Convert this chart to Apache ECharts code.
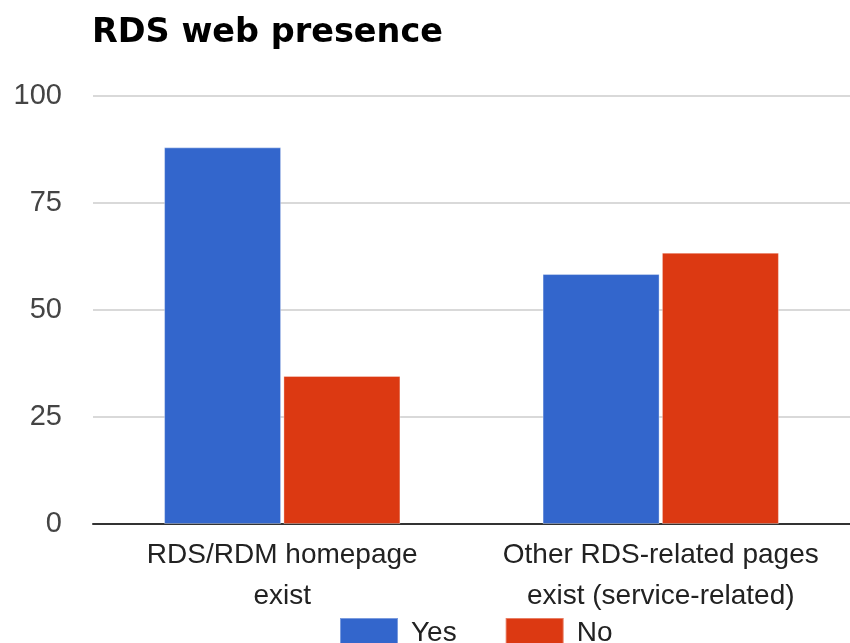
<!DOCTYPE html>
<html>
<head>
<meta charset="utf-8">
<script src="https://cdn.jsdelivr.net/npm/echarts@6/dist/echarts.min.js"></script>
<style>
html,body{margin:0;padding:0;background:#fff;}
#main{width:850px;height:643px;}
</style>
</head>
<body>
<div id="main"></div>
<script>
const titleText = 'RDS web presence';
const categories = ['RDS/RDM homepage\nexist', 'Other RDS-related pages\nexist (service-related)'];
const seriesNames = ['Yes', 'No'];
const yesValues = [88, 58.4];
const noValues = [34.6, 63.4];
const yTicks = [0, 25, 50, 75, 100];

const chart = echarts.init(document.getElementById('main'), null, {renderer: 'canvas'});
const barBorder = {borderColor: 'rgba(255,255,255,0.35)', borderWidth: 1};
chart.setOption({
  animation: false,
  backgroundColor: '#ffffff',
  title: {
    text: titleText,
    left: 87,
    top: 11,
    textStyle: {fontFamily: 'DejaVu Sans', fontWeight: 'bold', fontSize: 33.5, color: '#000'}
  },
  legend: {
    data: seriesNames,
    left: 334,
    top: 612,
    itemWidth: 58,
    itemHeight: 30,
    itemGap: 48,
    icon: 'rect',
    textStyle: {fontFamily: 'Liberation Sans', fontSize: 28, color: '#222', padding: [0, 0, 0, 8]}
  },
  grid: {left: 93, top: 96, width: 767, height: 428, containLabel: false},
  xAxis: {
    type: 'category',
    data: categories,
    axisLine: {lineStyle: {color: '#333', width: 2}},
    axisTick: {show: false},
    axisLabel: {
      fontFamily: 'Liberation Sans', fontSize: 28, color: '#222',
      lineHeight: 41, margin: 11, interval: 0
    }
  },
  yAxis: {
    type: 'value',
    min: yTicks[0],
    max: yTicks[yTicks.length - 1],
    interval: 25,
    axisLine: {show: false},
    axisTick: {show: false},
    splitLine: {lineStyle: {color: '#cccccc', width: 1.5}},
    axisLabel: {fontFamily: 'Liberation Sans', fontSize: 29, color: '#444', margin: 31, padding: [4, 0, 0, 0]}
  },
  series: [
    {name: seriesNames[0], type: 'bar', data: yesValues, barWidth: 117, barGap: '2%',
     itemStyle: Object.assign({color: '#3366cc'}, barBorder)},
    {name: seriesNames[1], type: 'bar', data: noValues, barWidth: 117, barGap: '2%',
     itemStyle: Object.assign({color: '#dc3912'}, barBorder)}
  ]
});
</script>
</body>
</html>
